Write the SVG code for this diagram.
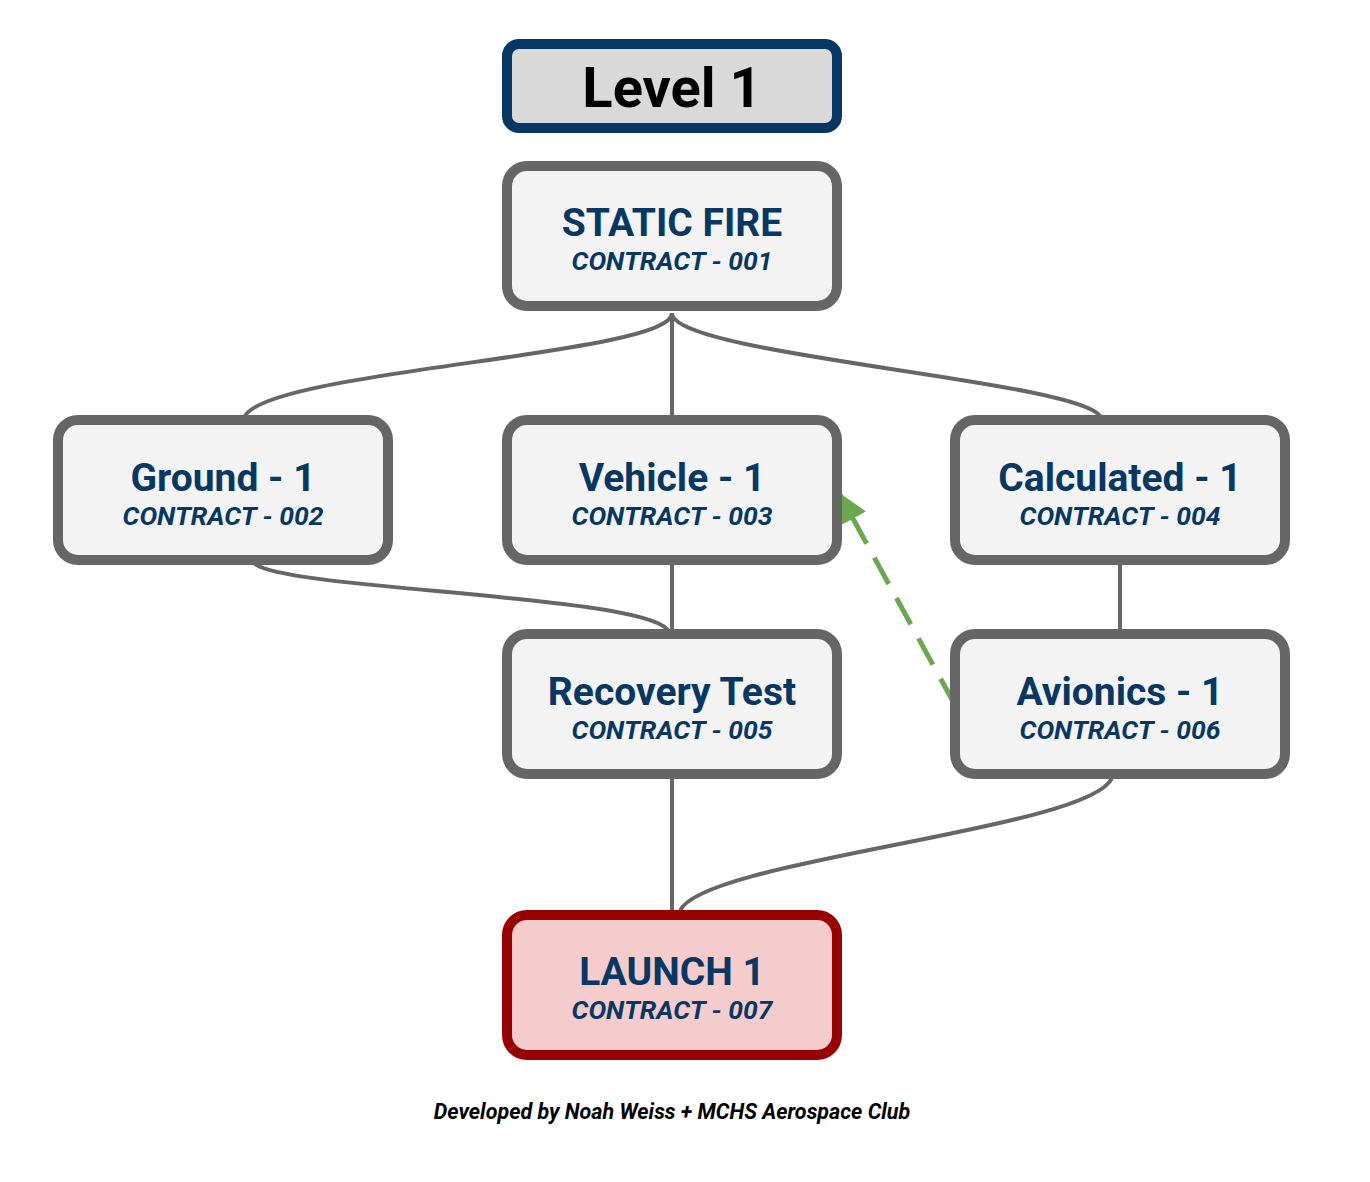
<svg xmlns="http://www.w3.org/2000/svg" width="1370" height="1182" viewBox="0 0 1370 1182">
<style>
.box{fill:#f3f3f3;stroke:#666666;stroke-width:10}
.t{font-family:Roboto,"Liberation Sans",sans-serif;font-weight:bold;font-size:39px;fill:#073763;text-anchor:middle}
.s{font-family:Roboto,"Liberation Sans",sans-serif;font-weight:bold;font-style:italic;font-size:26.5px;fill:#073763;text-anchor:middle}
.c{fill:none;stroke:#666666;stroke-width:4}
</style>
<defs>
<marker id="ah" viewBox="0 0 10 10" refX="9" refY="5" markerWidth="6" markerHeight="6" markerUnits="strokeWidth" orient="auto">
<path d="M0,0 L10,5 L0,10 Z" fill="#6aa84f"/>
</marker>
</defs>
<rect width="1370" height="1182" fill="#ffffff"/>
<g id="connectors">
<path class="c" d="M672,313 C672,355 270,370 245,416"/>
<path class="c" d="M672,313 V416"/>
<path class="c" d="M672,313 C672,355 1075,380 1100,416"/>
<path class="c" d="M255,564 C290,590 640,595 668,630"/>
<path class="c" d="M672,564 V630"/>
<path class="c" d="M1120,564 V630"/>
<path class="c" d="M672,778 V911"/>
<path class="c" d="M1112,778 C1090,830 700,860 680,911"/>
<path d="M955,705 L840,495" fill="none" stroke="#6aa84f" stroke-width="5" stroke-dasharray="30,16" marker-end="url(#ah)"/>
</g>
<g id="level1">
<rect x="507" y="44" width="330" height="84" rx="12" fill="#d9d9d9" stroke="#073763" stroke-width="10"/>
<text x="672" y="107" font-family="Roboto,'Liberation Sans',sans-serif" font-weight="bold" font-size="56" text-anchor="middle" fill="#000000">Level 1</text>
</g>
<g id="n001">
<rect class="box" x="507" y="166" width="330" height="140" rx="20"/>
<text class="t" x="672" y="236">STATIC FIRE</text>
<text class="s" x="672" y="270">CONTRACT - 001</text>
</g>
<g id="n002">
<rect class="box" x="58" y="420" width="330" height="140" rx="20"/>
<text class="t" x="223" y="491">Ground - 1</text>
<text class="s" x="223" y="525">CONTRACT - 002</text>
</g>
<g id="n003">
<rect class="box" x="507" y="420" width="330" height="140" rx="20"/>
<text class="t" x="672" y="491">Vehicle - 1</text>
<text class="s" x="672" y="525">CONTRACT - 003</text>
</g>
<g id="n004">
<rect class="box" x="955" y="420" width="330" height="140" rx="20"/>
<text class="t" x="1120" y="491">Calculated - 1</text>
<text class="s" x="1120" y="525">CONTRACT - 004</text>
</g>
<g id="n005">
<rect class="box" x="507" y="634" width="330" height="140" rx="20"/>
<text class="t" x="672" y="705">Recovery Test</text>
<text class="s" x="672" y="739">CONTRACT - 005</text>
</g>
<g id="n006">
<rect class="box" x="955" y="634" width="330" height="140" rx="20"/>
<text class="t" x="1120" y="705">Avionics - 1</text>
<text class="s" x="1120" y="739">CONTRACT - 006</text>
</g>
<g id="n007">
<rect x="507" y="915" width="330" height="140" rx="20" fill="#f4cccc" stroke="#990000" stroke-width="10"/>
<text class="t" x="672" y="985">LAUNCH 1</text>
<text class="s" x="672" y="1019">CONTRACT - 007</text>
</g>
<text x="672" y="1119" font-family="Roboto,'Liberation Sans',sans-serif" font-weight="bold" font-style="italic" font-size="21.5" text-anchor="middle" fill="#000000">Developed by Noah Weiss + MCHS Aerospace Club</text>
</svg>
